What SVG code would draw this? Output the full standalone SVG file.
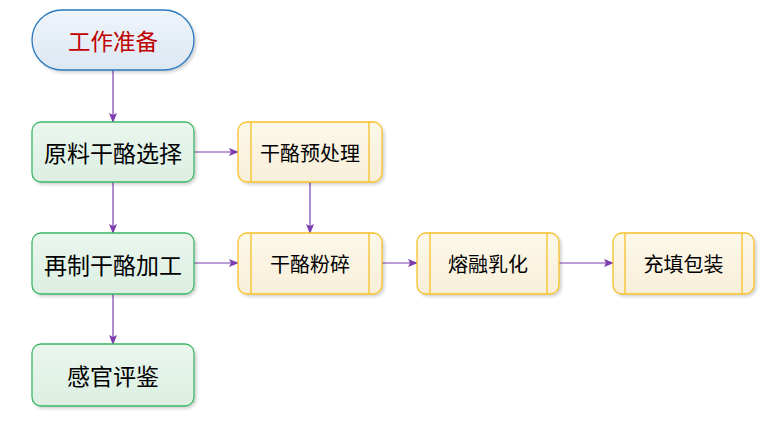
<svg xmlns="http://www.w3.org/2000/svg" width="772" height="421" viewBox="0 0 772 421">
<defs>
<linearGradient id="gb" x1="0" y1="0" x2="0" y2="1"><stop offset="0" stop-color="#eef4fa"/><stop offset="1" stop-color="#dde8f3"/></linearGradient>
<linearGradient id="gg" x1="0" y1="0" x2="0" y2="1"><stop offset="0" stop-color="#eaf6ee"/><stop offset="1" stop-color="#dcefe2"/></linearGradient>
<linearGradient id="gy" x1="0" y1="0" x2="0" y2="1"><stop offset="0" stop-color="#fdf8ea"/><stop offset="1" stop-color="#f8efd9"/></linearGradient>
<filter id="sh" x="-10%" y="-10%" width="130%" height="130%"><feDropShadow dx="2" dy="2" stdDeviation="1.5" flood-color="#000" flood-opacity="0.18"/></filter>
<marker id="ar" markerWidth="10" markerHeight="8" refX="9" refY="4" orient="auto" markerUnits="userSpaceOnUse"><path d="M0,0 L10,4 L0,8 L2,4 Z" fill="#7b3fb0"/></marker>
<style>
.g{fill:url(#gg);stroke:#3cb766;stroke-width:1.3;filter:url(#sh)}
.y{fill:url(#gy);stroke:#f6c026;stroke-width:1.3;filter:url(#sh)}
.yl{stroke:#f6c026;stroke-width:1.3}
.t{font-family:"Noto Sans CJK SC",sans-serif;text-anchor:middle;dominant-baseline:central;fill:#000}
.tg{font-size:23px}
.ty{font-size:20px}
.c{stroke:#7b3fb0;stroke-width:1.2;fill:none;marker-end:url(#ar)}
</style>
</defs>
<g id="connectors">
<line class="c" x1="113" y1="70" x2="113" y2="122"/>
<line class="c" x1="113" y1="182" x2="113" y2="233"/>
<line class="c" x1="113" y1="294" x2="113" y2="344"/>
<line class="c" x1="310" y1="182" x2="310" y2="233"/>
<line class="c" x1="194" y1="152" x2="238" y2="152"/>
<line class="c" x1="194" y1="263" x2="238" y2="263"/>
<line class="c" x1="382" y1="263" x2="417" y2="263"/>
<line class="c" x1="559" y1="263" x2="613" y2="263"/>
</g>
<g id="start">
<rect x="32" y="10" width="162" height="60" rx="30" fill="url(#gb)" stroke="#2a78c0" stroke-width="1.3" filter="url(#sh)"/>
<text class="t" x="113" y="40" font-size="22.5" style="fill:#c00000">工作准备</text>
</g>
<g id="n1">
<rect class="g" x="32" y="122" width="162" height="60" rx="9"/>
<text class="t tg" x="113" y="152">原料干酪选择</text>
</g>
<g id="n2">
<rect class="g" x="32" y="233" width="162" height="61" rx="9"/>
<text class="t tg" x="113" y="263.5">再制干酪加工</text>
</g>
<g id="n3">
<rect class="g" x="32" y="344" width="162" height="62" rx="9"/>
<text class="t tg" x="113" y="375">感官评鉴</text>
</g>
<g id="p1">
<rect class="y" x="238" y="122" width="144" height="60" rx="9"/>
<line class="yl" x1="251" y1="122" x2="251" y2="182"/>
<line class="yl" x1="369" y1="122" x2="369" y2="182"/>
<text class="t ty" x="310" y="152">干酪预处理</text>
</g>
<g id="p2">
<rect class="y" x="238" y="233" width="144" height="61" rx="9"/>
<line class="yl" x1="251" y1="233" x2="251" y2="294"/>
<line class="yl" x1="369" y1="233" x2="369" y2="294"/>
<text class="t ty" x="310" y="263.5">干酪粉碎</text>
</g>
<g id="p3">
<rect class="y" x="417" y="233" width="142" height="61" rx="9"/>
<line class="yl" x1="430" y1="233" x2="430" y2="294"/>
<line class="yl" x1="547" y1="233" x2="547" y2="294"/>
<text class="t ty" x="488" y="263.5">熔融乳化</text>
</g>
<g id="p4">
<rect class="y" x="613" y="233" width="141" height="61" rx="9"/>
<line class="yl" x1="625" y1="233" x2="625" y2="294"/>
<line class="yl" x1="742" y1="233" x2="742" y2="294"/>
<text class="t ty" x="683.5" y="263.5">充填包装</text>
</g>
</svg>
